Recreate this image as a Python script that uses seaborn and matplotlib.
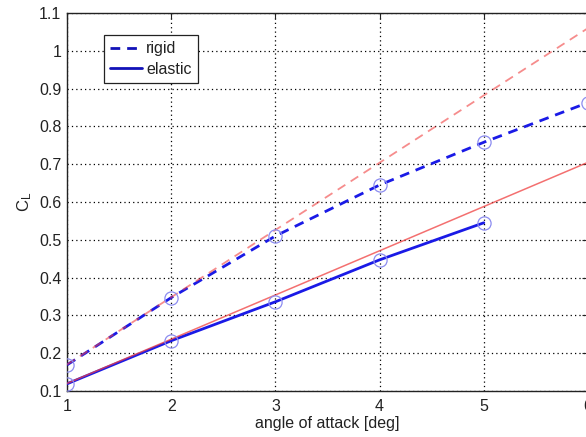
import matplotlib
matplotlib.use("Agg")
import matplotlib.pyplot as plt
import seaborn as sns
import pandas as pd

# data
angle = [1, 2, 3, 4, 5, 6]
cl_rigid = [0.169, 0.347, 0.510, 0.645, 0.758, 0.863]
angle_elastic = [1, 2, 3, 4, 5]
cl_elastic = [0.119, 0.233, 0.336, 0.447, 0.545]
lin_angle = [1, 6]
cl_rigid_linear = [0.170, 1.060]
cl_elastic_linear = [0.120, 0.705]

xticks = [1, 2, 3, 4, 5, 6]
yticks = [0.1, 0.2, 0.3, 0.4, 0.5, 0.6, 0.7, 0.8, 0.9, 1.0, 1.1]
ytick_labels = ["0.1", "0.2", "0.3", "0.4", "0.5", "0.6", "0.7", "0.8", "0.9", "1", "1.1"]

sns.set_style("white")
plt.rcParams["font.family"] = ["Liberation Sans", "DejaVu Sans"]
plt.rcParams["mathtext.fontset"] = "custom"
plt.rcParams["mathtext.rm"] = "Liberation Sans"
plt.rcParams["mathtext.it"] = "Liberation Sans"

fig = plt.figure(figsize=(5.86, 4.37), dpi=100)
W, H = 586, 437
ax = fig.add_axes([67 / W, (H - 391) / H, (588 - 67) / W, (391 - 13) / H])

blue = "#1a1ae6"
mk = "#8c8cf0"
red = "#f04040"

df_r = pd.DataFrame({"x": angle, "y": cl_rigid})
df_e = pd.DataFrame({"x": angle_elastic, "y": cl_elastic})
df_rl = pd.DataFrame({"x": lin_angle, "y": cl_rigid_linear})
df_el = pd.DataFrame({"x": lin_angle, "y": cl_elastic_linear})

sns.lineplot(data=df_r, x="x", y="y", ax=ax, color=blue, lw=2.0,
             linestyle=(0, (3.5, 2.5)), label="rigid", zorder=3)
sns.lineplot(data=df_e, x="x", y="y", ax=ax, color=blue, lw=2.0,
             label="elastic", zorder=3)
sns.lineplot(data=df_rl, x="x", y="y", ax=ax, color=red, lw=1.3, alpha=0.6,
             linestyle=(0, (5, 3.5)), legend=False, zorder=4)
sns.lineplot(data=df_el, x="x", y="y", ax=ax, color=red, lw=1.1, alpha=0.75,
             legend=False, zorder=4)
ax.plot(angle, cl_rigid, ls="none", marker="o", ms=9.5, mfc="none", mec=mk, mew=0.9, zorder=5)
ax.plot(angle_elastic, cl_elastic, ls="none", marker="o", ms=9.5, mfc="none", mec=mk, mew=0.9, zorder=5)

ax.set_xlim(1, 6)
ax.set_ylim(0.1, 1.1)
ax.set_xticks(xticks)
ax.set_yticks(yticks)
ax.set_yticklabels(ytick_labels)
ax.tick_params(direction="in", length=4, width=0.8, labelsize=11.5, colors="#222222",
               top=True, right=True, pad=4)
ax.tick_params(axis="x", pad=6)
ax.grid(True, color="black", linestyle=(0, (1, 2.5)), linewidth=0.9)
for s in ax.spines.values():
    s.set_color("#222222")
    s.set_linewidth(1.0)

ax.set_xlabel("angle of attack [deg]", fontsize=11.5, color="#222222", labelpad=1)
ax.set_ylabel("C$_\\mathregular{L}$", fontsize=12, color="#222222", labelpad=4)

leg = ax.legend(loc="upper left", bbox_to_anchor=(37 / 521, 1 - 22 / 378), fontsize=11.5,
                frameon=True, fancybox=False, edgecolor="#222222", framealpha=1,
                handlelength=2.0, handletextpad=0.25, borderpad=0.4, labelspacing=0.35,
                borderaxespad=0)
leg.get_frame().set_linewidth(0.9)
for t in leg.get_texts():
    t.set_color("#222222")
for h in leg.get_lines():
    h.set_color("#1212b8")

fig.savefig("out.png", dpi=100)
